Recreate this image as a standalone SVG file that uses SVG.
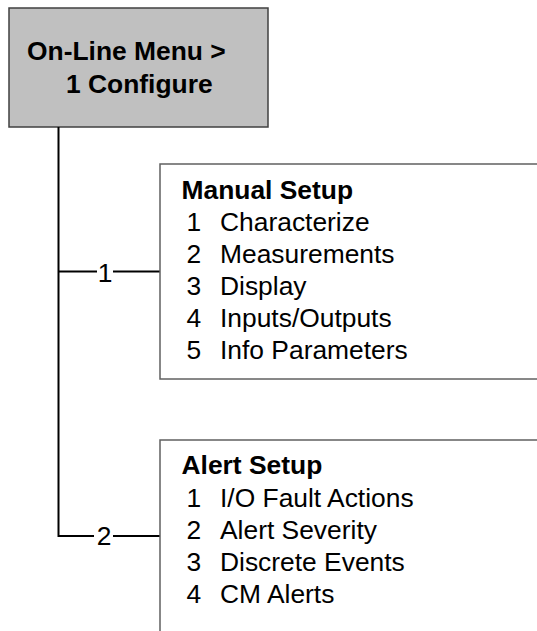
<svg xmlns="http://www.w3.org/2000/svg" width="537" height="631" viewBox="0 0 537 631">
<style>
text{font-family:"Liberation Sans",Arial,sans-serif;font-size:26.4px;fill:#000}
.b{font-weight:bold}
.box{fill:#fff;stroke:#606060;stroke-width:1.5}
.conn{stroke:#000;stroke-width:2;fill:none}
</style>
<rect width="537" height="631" fill="#fff"/>
<g id="root">
<rect x="9" y="8" width="259" height="119" fill="#c0c0c0" stroke="#404040" stroke-width="1.5"/>
<text class="b" x="27" y="60">On-Line Menu &gt;</text>
<text class="b" x="66" y="93">1 Configure</text>
</g>
<g id="connectors">
<path class="conn" d="M58.5,127 V536 H94"/>
<path class="conn" d="M113,536 H160"/>
<path class="conn" d="M58.5,271.5 H97"/>
<path class="conn" d="M113,271.5 H160"/>
<text x="105" y="281.5" text-anchor="middle">1</text>
<text x="104" y="545" text-anchor="middle">2</text>
</g>
<g id="manual-setup">
<rect class="box" x="160" y="164" width="400" height="215"/>
<text class="b" x="181.5" y="199">Manual Setup</text>
<text x="186.5" y="231">1</text><text x="220" y="231">Characterize</text>
<text x="186.5" y="263">2</text><text x="220" y="263">Measurements</text>
<text x="186.5" y="295">3</text><text x="220" y="295">Display</text>
<text x="186.5" y="327">4</text><text x="220" y="327">Inputs/Outputs</text>
<text x="186.5" y="359">5</text><text x="220" y="359">Info Parameters</text>
</g>
<g id="alert-setup">
<rect class="box" x="160" y="440" width="400" height="220"/>
<text class="b" x="181.5" y="474">Alert Setup</text>
<text x="186.5" y="507">1</text><text x="220" y="507">I/O Fault Actions</text>
<text x="186.5" y="539">2</text><text x="220" y="539">Alert Severity</text>
<text x="186.5" y="571">3</text><text x="220" y="571">Discrete Events</text>
<text x="186.5" y="603">4</text><text x="220" y="603">CM Alerts</text>
</g>
</svg>
